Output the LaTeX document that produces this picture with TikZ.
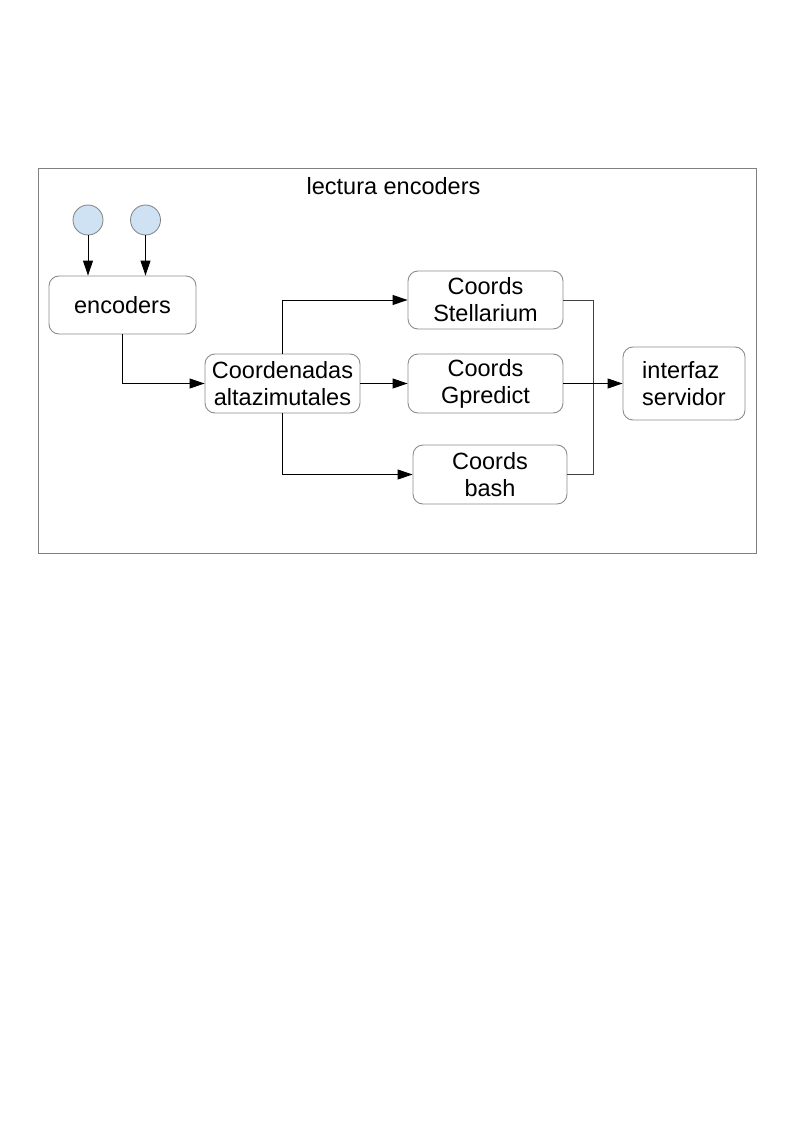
\documentclass[tikz,border=0pt]{standalone}
\usepackage{fontspec}
\setmainfont{Liberation Sans}
\usetikzlibrary{arrows.meta}
\definecolor{srcfill}{RGB}{207,226,243}
\begin{document}
\begin{tikzpicture}[x=1pt,y=-1pt,
  box/.style={draw=black!45, rounded corners=10pt, line width=0.9pt, fill=white, inner sep=0pt, align=center, font=\fontsize{23.5}{27}\selectfont},
  src/.style={circle, draw=black!50, fill=srcfill, line width=0.8pt, minimum size=30pt, inner sep=0pt},
  arr/.style={-{Triangle[length=15pt,width=10pt]}, line width=0.9pt, black},
  wire/.style={line width=0.9pt, black!75}]
\useasboundingbox (0,0) rectangle (794,1123);
\node[draw=black!50, line width=0.9pt, minimum width=718pt, minimum height=385pt, inner sep=0pt] (frame) at (397,360.5) {};
\node[font=\fontsize{23.5}{27}\selectfont] (title) at (393.5,186) {lectura encoders};
\node[src] (c1) at (88,220) {};
\node[src] (c2) at (145.5,220) {};
\node[box, minimum width=147pt, minimum height=58pt] (enc) at (122.5,305) {encoders};
\node[box, minimum width=155pt, minimum height=59pt] (coord) at (282.5,383.5) {Coordenadas\\altazimutales};
\node[box, minimum width=155pt, minimum height=58pt] (stel) at (485.5,300) {Coords\\Stellarium};
\node[box, minimum width=155pt, minimum height=59pt] (gpre) at (485.5,383.5) {Coords\\Gpredict};
\node[box, minimum width=154pt, minimum height=59pt] (bash) at (490,474.5) {Coords\\bash};
\node[box, minimum width=122pt, minimum height=73pt, align=left] (serv) at (684,383.5) {interfaz\\servidor};
\coordinate (m) at (593,383.5);
\draw[arr] (c1) -- (c1 |- enc.north);
\draw[arr] (c2) -- (c2 |- enc.north);
\draw[arr] (enc.south) |- (coord.west);
\draw[arr] (coord.north) |- (stel.west);
\draw[arr] (coord.east) -- (gpre.west);
\draw[arr] (coord.south) |- (bash.west);
\draw[wire] (stel.east) -| (m);
\draw[wire] (bash.east) -| (m);
\draw[arr] (gpre.east) -- (serv.west);
\end{tikzpicture}
\end{document}
